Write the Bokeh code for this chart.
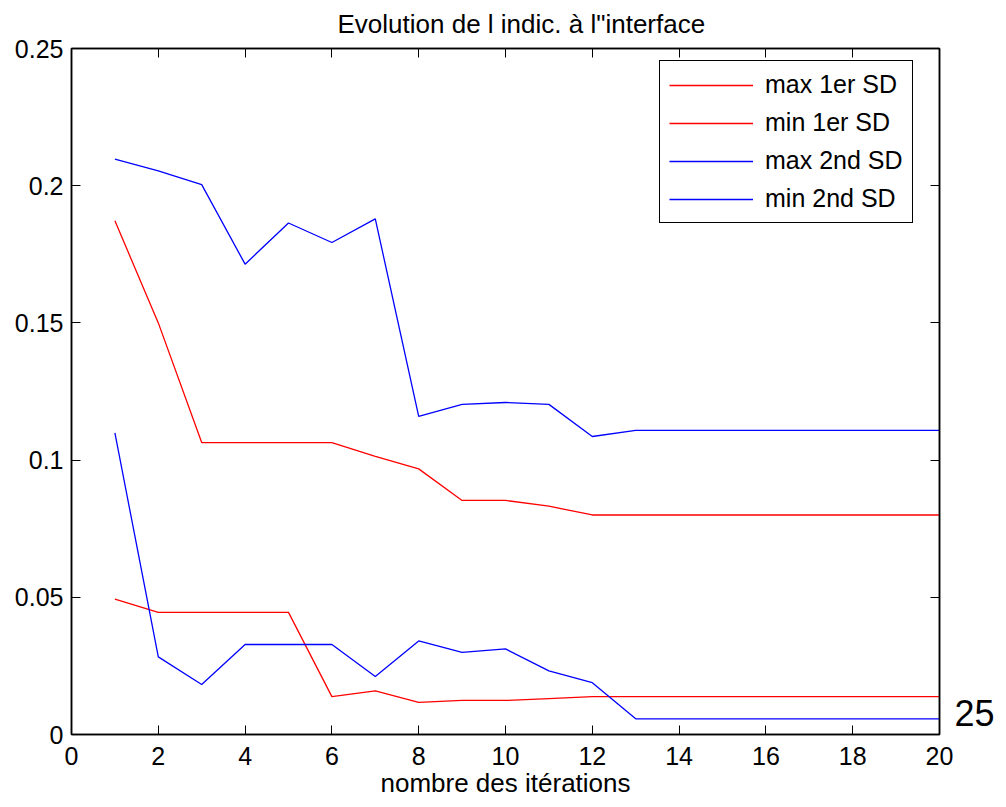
from bokeh.plotting import figure
from bokeh.models import Range1d, LinearAxis, FixedTicker, Legend, LegendItem
from bokeh.embed import file_html
from bokeh.resources import INLINE

iterations = list(range(1, 21))
max_1er_sd = [0.1872, 0.1500, 0.1064, 0.1064, 0.1064, 0.1064, 0.1014, 0.0968, 0.0853, 0.0853,
              0.0832, 0.0800, 0.0800, 0.0800, 0.0800, 0.0800, 0.0800, 0.0800, 0.0800, 0.0800]
min_1er_sd = [0.0493, 0.0445, 0.0445, 0.0445, 0.0445, 0.0138, 0.0159, 0.0117, 0.0124, 0.0124,
              0.0131, 0.0138, 0.0138, 0.0138, 0.0138, 0.0138, 0.0138, 0.0138, 0.0138, 0.0138]
max_2nd_sd = [0.2097, 0.2054, 0.2004, 0.1714, 0.1864, 0.1793, 0.1879, 0.1159, 0.1203, 0.1210,
              0.1203, 0.1086, 0.1108, 0.1108, 0.1108, 0.1108, 0.1108, 0.1108, 0.1108, 0.1108]
min_2nd_sd = [0.1099, 0.0283, 0.0182, 0.0328, 0.0328, 0.0328, 0.0211, 0.0341, 0.0299, 0.0312,
              0.0232, 0.0189, 0.0057, 0.0057, 0.0057, 0.0057, 0.0057, 0.0057, 0.0057, 0.0057]

series_names = ["max 1er SD", "min 1er SD", "max 2nd SD", "min 2nd SD"]
series_colors = ["#ff0000", "#ff0000", "#0000ff", "#0000ff"]

x_ticks = [0, 2, 4, 6, 8, 10, 12, 14, 16, 18, 20]
y_ticks = [0, 0.05, 0.1, 0.15, 0.2, 0.25]
y_tick_labels = ["0", "0.05", "0.1", "0.15", "0.2", "0.25"]

title_text = "Evolution de l indic. \u00e0 l\"interface"
x_label = "nombre des it\u00e9rations"
stray_text = "25"
stray_level = [0.008]

FONT = "Liberation Sans"

p = figure(width=1006, height=807, output_backend="svg", toolbar_location=None,
           x_range=Range1d(0, 20), y_range=Range1d(0, 0.25),
           min_border_left=71, min_border_right=67, min_border_top=48, min_border_bottom=73)
p.background_fill_color = "white"
p.border_fill_color = "white"
p.outline_line_color = "black"
p.outline_line_width = 1.5
p.grid.visible = False

p.title.text = title_text
p.title.text_font = FONT
p.title.text_font_size = "26px"
p.title.text_font_style = "normal"
p.title.text_color = "black"
p.title.align = "left"
p.title.vertical_align = "top"
p.title.offset = 266
p.title.standoff = 16

renderers = []
for ys, name, col in zip([max_1er_sd, min_1er_sd, max_2nd_sd, min_2nd_sd], series_names, series_colors):
    r = p.line(iterations, ys, line_color=col, line_width=1.3)
    renderers.append((name, r))

def style_axis(ax, labels=True):
    ax.axis_line_color = "black"
    ax.axis_line_width = 1.5
    ax.major_tick_in = 9
    ax.major_tick_out = 0
    ax.minor_tick_in = 0
    ax.minor_tick_out = 0
    ax.major_tick_line_color = "black"
    ax.major_tick_line_width = 1
    if labels:
        ax.major_label_text_font = FONT
        ax.major_label_text_font_size = "25px"
        ax.major_label_text_color = "black"
    else:
        ax.major_label_text_font_size = "1px"
        ax.major_label_standoff = 0

xa = p.xaxis[0]
xa.ticker = FixedTicker(ticks=x_ticks)
xa.major_label_overrides = {t: str(t) for t in x_ticks}
style_axis(xa)
xa.major_label_standoff = 12
xa.axis_label = x_label
xa.axis_label_text_font = FONT
xa.axis_label_text_font_size = "26px"
xa.axis_label_text_font_style = "normal"
xa.axis_label_text_color = "black"
xa.axis_label_standoff = 0

ya = p.yaxis[0]
ya.ticker = FixedTicker(ticks=y_ticks)
ya.major_label_overrides = {t: l for t, l in zip(y_ticks, y_tick_labels)}
style_axis(ya)
ya.major_label_standoff = 8

top = LinearAxis(ticker=FixedTicker(ticks=x_ticks))
style_axis(top, labels=False)
top.major_label_overrides = {t: "" for t in x_ticks}
p.add_layout(top, "above")

right = LinearAxis(ticker=FixedTicker(ticks=y_ticks))
style_axis(right, labels=False)
right.major_label_overrides = {t: "" for t in y_ticks}
p.add_layout(right, "right")

stray = LinearAxis(ticker=FixedTicker(ticks=stray_level))
stray.major_label_overrides = {stray_level[0]: stray_text}
stray.axis_line_color = None
stray.major_tick_line_color = None
stray.minor_tick_line_color = None
stray.major_tick_in = 0
stray.major_tick_out = 0
stray.minor_tick_in = 0
stray.minor_tick_out = 0
stray.major_label_standoff = 15
stray.major_label_text_font = FONT
stray.major_label_text_font_size = "36px"
stray.major_label_text_color = "black"
p.add_layout(stray, "right")

legend = Legend(items=[LegendItem(label=n, renderers=[r]) for n, r in renderers],
                location=(588, 511))
legend.label_text_font = FONT
legend.label_text_font_size = "25px"
legend.label_text_color = "black"
legend.glyph_width = 84
legend.glyph_height = 20
legend.label_height = 20
legend.spacing = 9
legend.padding = 9
legend.label_standoff = 12
legend.border_line_color = "black"
legend.border_line_width = 1.5
legend.border_line_alpha = 1
legend.background_fill_color = "white"
legend.background_fill_alpha = 1
legend.margin = 0
p.add_layout(legend, "center")

open("out.html", "w").write(file_html(p, INLINE))
